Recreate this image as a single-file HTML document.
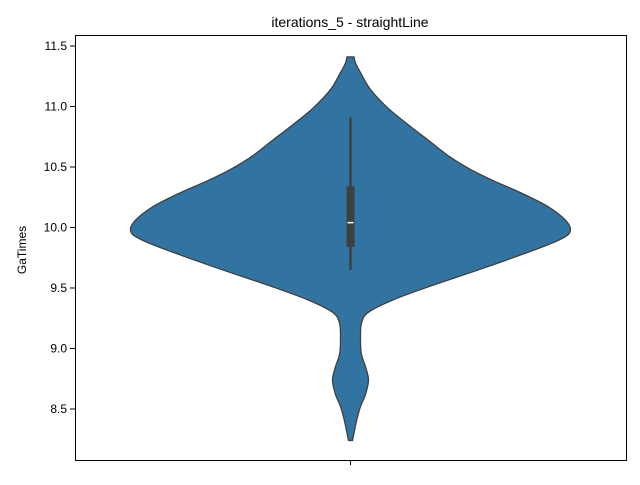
<!DOCTYPE html>
<html><head><meta charset="utf-8"><style>
body{margin:0;background:#fff;}
svg text{font-family:"Liberation Sans","DejaVu Sans",sans-serif;fill:#000;}
</style></head><body>
<svg width="640" height="480" viewBox="0 0 640 480">
<text x="350" y="27" font-size="14" text-anchor="middle">iterations_5 - straightLine</text>
<text transform="translate(26,250) rotate(-90)" font-size="12" text-anchor="middle">GaTimes</text>
<g id="yticks"></g>
<g id="plot"></g>
<rect x="75.5" y="35.5" width="551" height="425" fill="none" stroke="#000" stroke-width="1"/>
<line x1="350.5" y1="460" x2="350.5" y2="465" stroke="#000"/>
</svg>
<script>
const yTickValues=[8.5,9.0,9.5,10.0,10.5,11.0,11.5];
const yTickLabels=["8.5","9.0","9.5","10.0","10.5","11.0","11.5"];
const densityValues=[11.41,11.36,11.28,11.14,10.99,10.86,10.72,10.58,10.48,10.39,10.28,10.17,10.06,9.98,9.92,9.84,9.67,9.51,9.40,9.30,9.21,9.07,8.95,8.85,8.74,8.62,8.52,8.40,8.24];
const densityWidths=[3.5,5,10,20,37,56,78,100,120,142,172,198,215,220,214,192,135,78,42,18,11,10,11,15,18,15,10,6,2];
const boxStats=[9.65,9.84,10.04,10.34,10.91]; // whiskerLow,q1,median,q3,whiskerHigh
const NS="http://www.w3.org/2000/svg";
const cx=350.5;
function y(v){return 227.5-(v-10)*121;}
function w(d){return d;}
const yt=document.getElementById('yticks');
yTickValues.forEach((v,i)=>{
  const l=document.createElementNS(NS,'line');
  l.setAttribute('x1',70);l.setAttribute('x2',75);l.setAttribute('y1',y(v));l.setAttribute('y2',y(v));l.setAttribute('stroke','#000');
  
  
  yt.appendChild(l);
  const t=document.createElementNS(NS,'text');
  t.setAttribute('x',67);t.setAttribute('y',y(v)+4);t.setAttribute('font-size','12');t.setAttribute('text-anchor','end');
  t.textContent=yTickLabels[i];
  
  
  yt.appendChild(t);
});
function smooth(pts){
  let d='M'+pts[0][0]+','+pts[0][1];
  for(let i=0;i<pts.length-1;i++){
    const p0=pts[Math.max(0,i-1)],p1=pts[i],p2=pts[i+1],p3=pts[Math.min(pts.length-1,i+2)];
    const c1=[p1[0]+(p2[0]-p0[0])/6,p1[1]+(p2[1]-p0[1])/6];
    const c2=[p2[0]-(p3[0]-p1[0])/6,p2[1]-(p3[1]-p1[1])/6];
    d+=' C'+c1[0]+','+c1[1]+' '+c2[0]+','+c2[1]+' '+p2[0]+','+p2[1];
  }
  return d;
}
const right=densityValues.map((v,i)=>[cx+w(densityWidths[i]),y(v)]);
const left=densityValues.map((v,i)=>[cx-w(densityWidths[i]),y(v)]).reverse();
let d=smooth(right);
d+=' L'+left[0][0]+','+left[0][1]+smooth(left).replace(/^M[^ ]+/,'')+' Z';
const plot=document.getElementById('plot');
const body=document.createElementNS(NS,'path');
body.setAttribute('d',d);body.setAttribute('fill','#3274a1');body.setAttribute('stroke','#3f3f3f');body.setAttribute('stroke-width','1.3');


plot.appendChild(body);
const wh=document.createElementNS(NS,'line');
wh.setAttribute('x1',cx);wh.setAttribute('x2',cx);wh.setAttribute('y1',y(boxStats[0]));wh.setAttribute('y2',y(boxStats[4]));wh.setAttribute('stroke','#3f3f3f');wh.setAttribute('stroke-width','2.5');


plot.appendChild(wh);
const bx=document.createElementNS(NS,'rect');
bx.setAttribute('x',cx-4);bx.setAttribute('width',8);bx.setAttribute('y',y(boxStats[3]));bx.setAttribute('height',y(boxStats[1])-y(boxStats[3]));bx.setAttribute('fill','#3f3f3f');


plot.appendChild(bx);
const md=document.createElementNS(NS,'line');
md.setAttribute('x1',cx-3);md.setAttribute('x2',cx+3);md.setAttribute('y1',y(boxStats[2]));md.setAttribute('y2',y(boxStats[2]));md.setAttribute('stroke','#fff');md.setAttribute('stroke-width','1.5');


plot.appendChild(md);
</script>
</body></html>
